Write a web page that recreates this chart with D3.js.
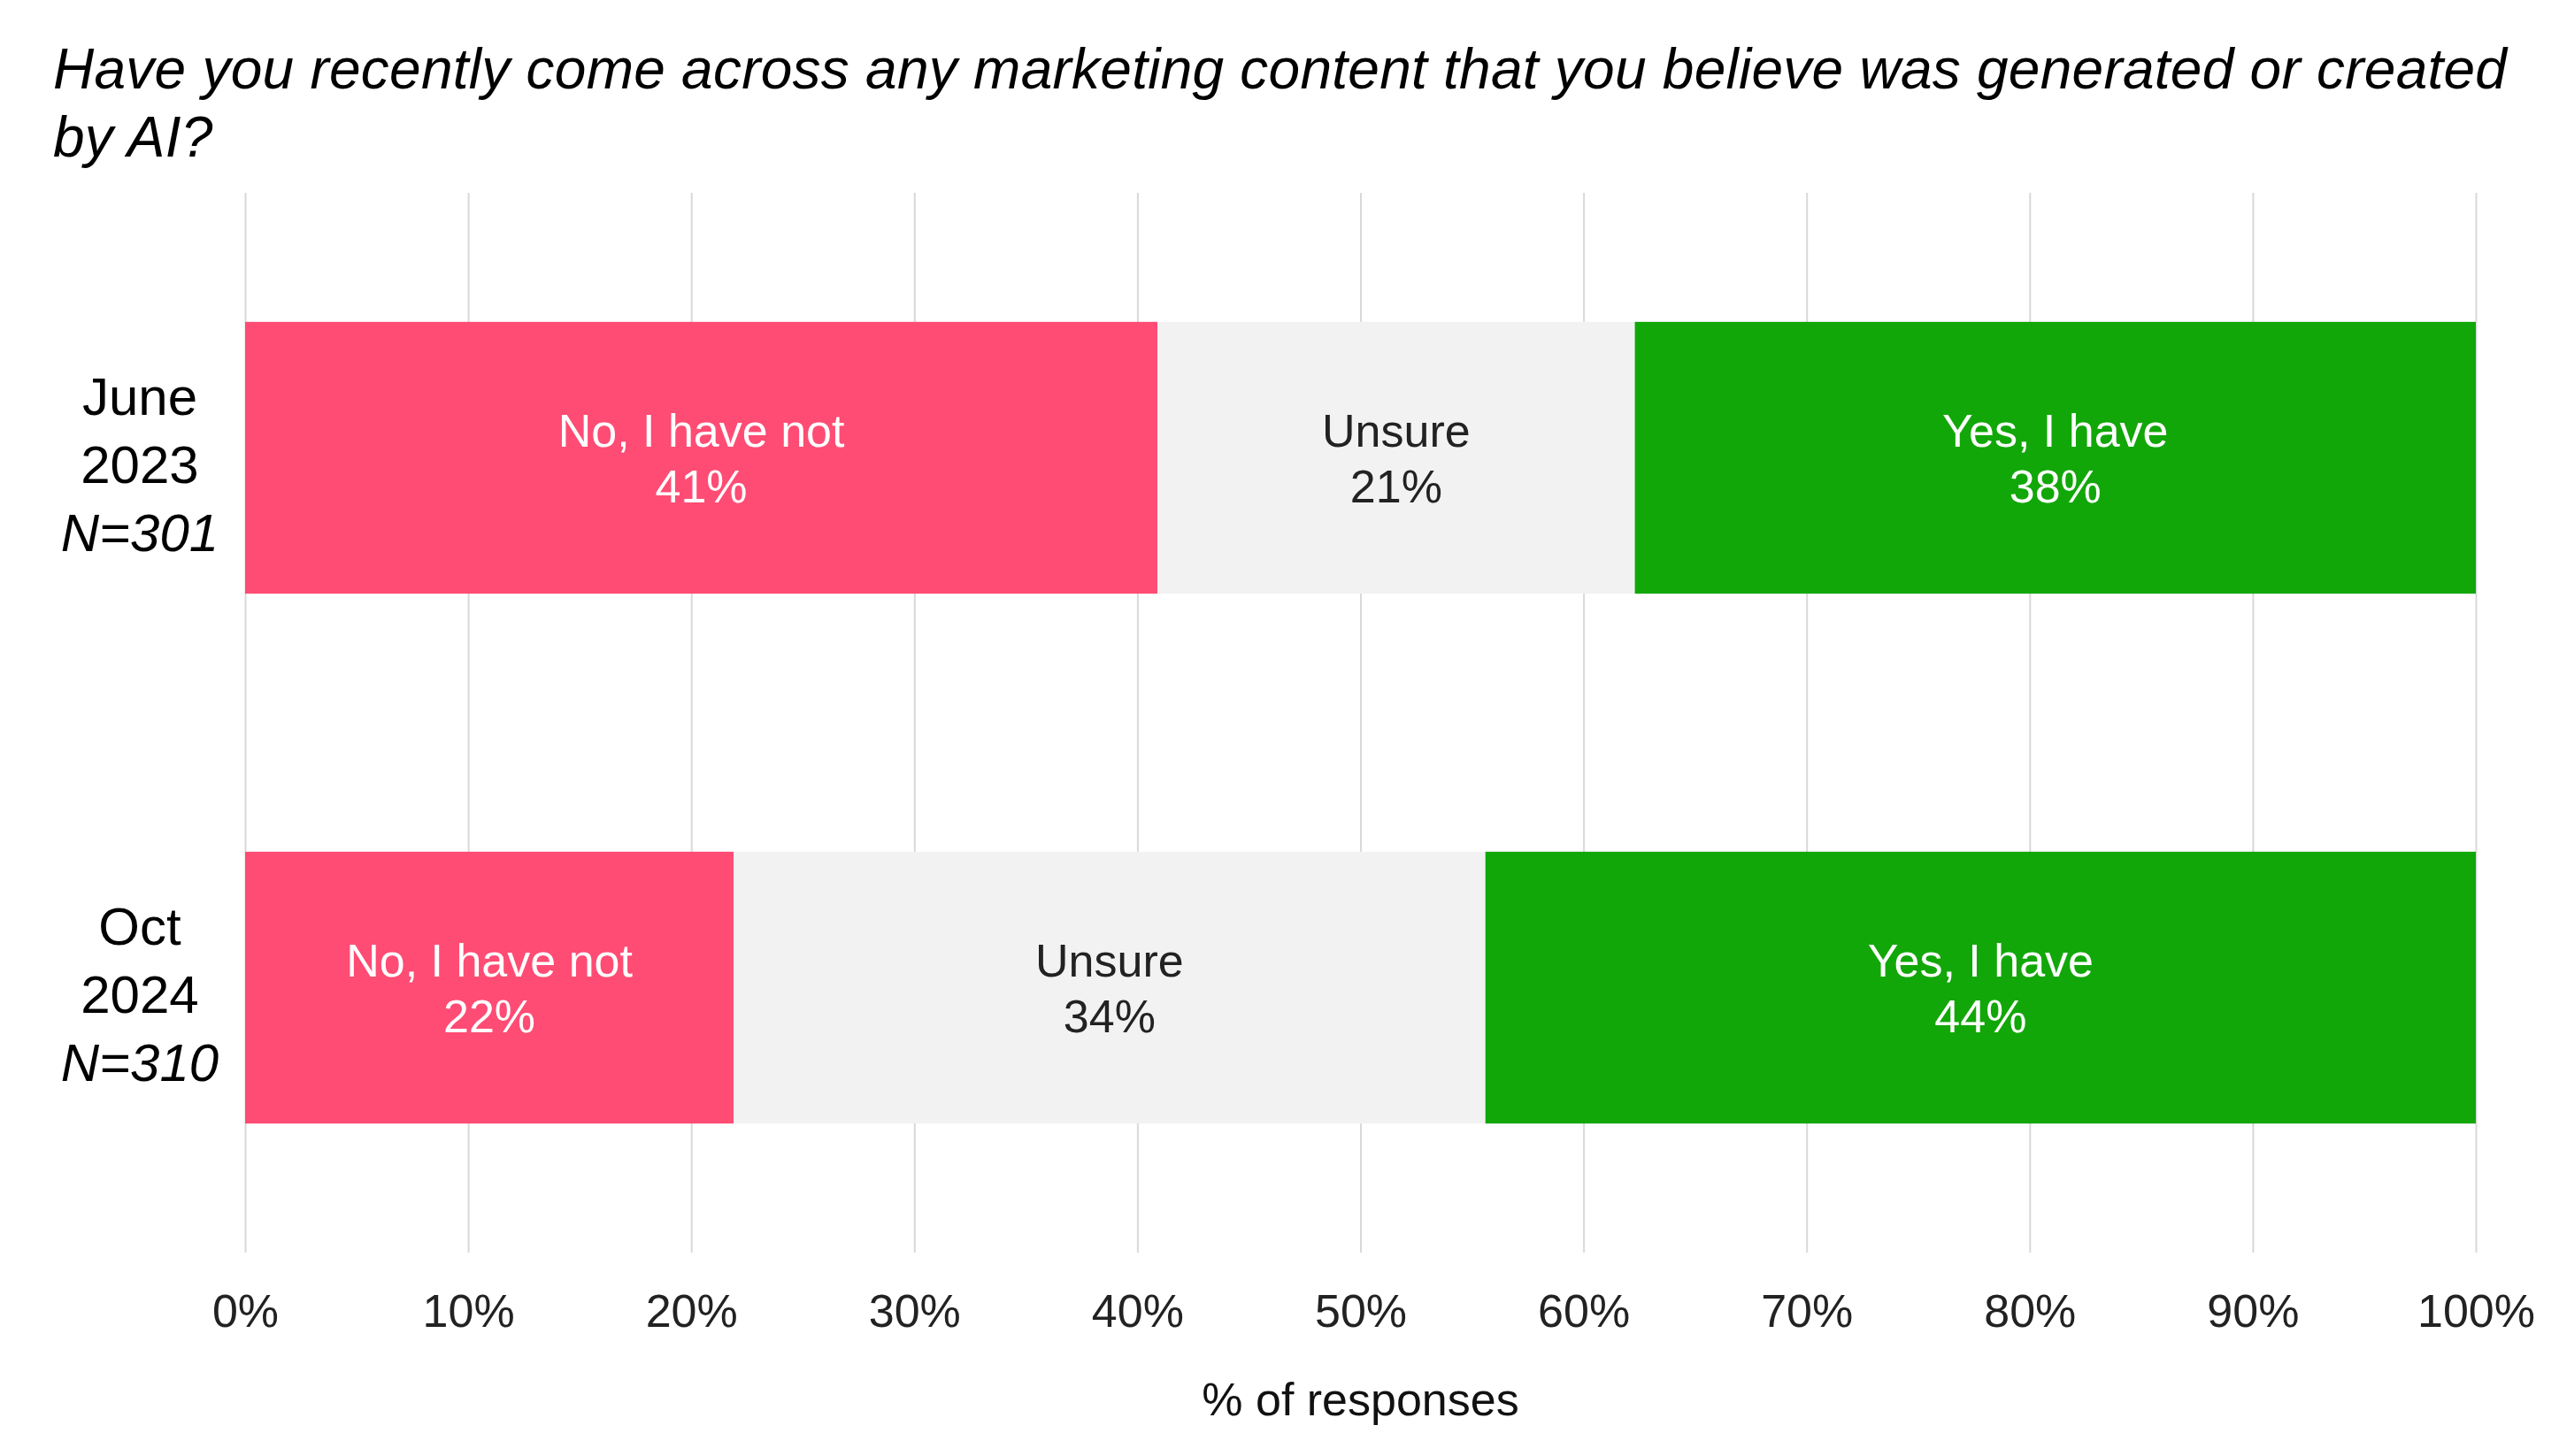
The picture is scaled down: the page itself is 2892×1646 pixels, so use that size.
<!DOCTYPE html>
<html>
<head>
<meta charset="utf-8">
<script src="https://cdn.jsdelivr.net/npm/d3@7"></script>
<style>
  html, body { margin: 0; padding: 0; background: #fff; }
  svg { display: block; font-family: "Liberation Sans", Arial, sans-serif; }
</style>
</head>
<body>
<svg id="chart" width="2892" height="1646"></svg>
<script>
// ---- data ----
const titleLines = [
  "Have you recently come across any marketing content that you believe was generated or created",
  "by AI?"
];
const periods = ["June 2023", "Oct 2024"];
const periodLines = [["June", "2023", "N=301"], ["Oct", "2024", "N=310"]];
const categories = ["No, I have not", "Unsure", "Yes, I have"];
const noValues = [40.9, 21.9];
const unsureValues = [21.4, 33.7];
const yesValues = [37.7, 44.4];
const labelValues = [[41, 21, 38], [22, 34, 44]];
const tickValues = [0, 10, 20, 30, 40, 50, 60, 70, 80, 90, 100];
const axisTitle = "% of responses";

const colors = ["#FF4C74", "#F2F2F2", "#12A709"];
const textColors = ["#ffffff", "#222222", "#ffffff"];

// ---- layout ----
const svg = d3.select("#chart");
const x = d3.scaleLinear().domain([0, 100]).range([277, 2798]);
const y = d3.scaleBand().domain(periods).range([218, 1416]).paddingInner(0.487).paddingOuter(0.2435);

// title
const title = svg.append("text")
  .attr("x", 60).attr("y", 100)
  .attr("font-size", 64).attr("font-style", "italic").attr("fill", "#000")
  .attr("letter-spacing", 0.25);
titleLines.forEach((t, i) => {
  title.append("tspan").attr("x", 60).attr("y", 100 + i * 77).text(t);
});

// grid / x axis
const xAxis = d3.axisBottom(x)
  .tickValues(tickValues)
  .tickSize(-(1416 - 218))
  .tickPadding(47)
  .tickFormat(d => d + "%");
const gx = svg.append("g").attr("transform", "translate(0,1416)").call(xAxis);
gx.select(".domain").remove();
gx.selectAll(".tick line").attr("stroke", "#d9d9d9").attr("stroke-width", 2);
gx.selectAll(".tick text")
  .attr("font-size", 52)
  .attr("font-family", "'Liberation Sans', Arial, sans-serif")
  .attr("fill", "#222");

// axis title
svg.append("text")
  .attr("x", (x(0) + x(100)) / 2).attr("y", 1600)
  .attr("text-anchor", "middle").attr("font-size", 52).attr("fill", "#111")
  .text(axisTitle);

// stacked data
const rows = periods.map((p, i) => {
  const vals = [noValues[i], unsureValues[i], yesValues[i]];
  let acc = 0;
  return vals.map((v, j) => {
    const seg = { period: p, cat: j, x0: acc, x1: acc + v, label: labelValues[i][j] };
    acc += v;
    return seg;
  });
}).flat();

svg.append("g").selectAll("rect").data(rows).join("rect")
  .attr("x", d => x(d.x0))
  .attr("y", d => y(d.period))
  .attr("width", d => x(d.x1) - x(d.x0))
  .attr("height", y.bandwidth())
  .attr("fill", d => colors[d.cat]);

// segment labels
const lab = svg.append("g").selectAll("text").data(rows).join("text")
  .attr("text-anchor", "middle")
  .attr("font-size", 52)
  .attr("fill", d => textColors[d.cat]);
lab.append("tspan")
  .attr("x", d => (x(d.x0) + x(d.x1)) / 2)
  .attr("y", d => y(d.period) + y.bandwidth() / 2 - 13)
  .text(d => categories[d.cat]);
lab.append("tspan")
  .attr("x", d => (x(d.x0) + x(d.x1)) / 2)
  .attr("y", d => y(d.period) + y.bandwidth() / 2 + 50)
  .text(d => d.label + "%");

// period labels
periods.forEach((p, i) => {
  const cy = y(p) + y.bandwidth() / 2;
  const t = svg.append("text").attr("text-anchor", "middle").attr("font-size", 60).attr("fill", "#000");
  periodLines[i].forEach((line, k) => {
    t.append("tspan")
      .attr("x", 158)
      .attr("y", cy + 28 + (k - 1) * 77)
      .attr("font-style", k === 2 ? "italic" : "normal")
      .text(line);
  });
});
</script>
</body>
</html>
